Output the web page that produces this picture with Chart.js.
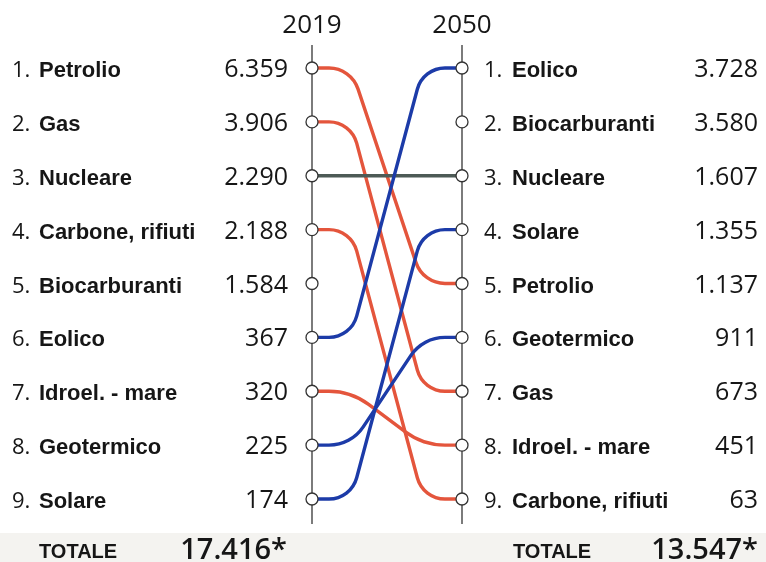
<!DOCTYPE html>
<html lang="it">
<head>
    <meta charset="UTF-8">
    <title>Fonti energetiche 2019 - 2050</title>
    <script src="https://cdn.jsdelivr.net/npm/chart.js"></script>
    <style>
        html, body { margin: 0; padding: 0; background: #fff; }
        #wrap { position: relative; width: 766px; height: 562px; overflow: hidden; }
    </style>
</head>
<body>
    <div id="wrap">
        <canvas id="rankChart" width="766" height="562"></canvas>
    </div>

    <script>
        // Dati: classifica 2019 e 2050
        const years = [2019, 2050];
        const ranks = [1, 2, 3, 4, 5, 6, 7, 8, 9];
        const names2019 = ['Petrolio', 'Gas', 'Nucleare', 'Carbone, rifiuti', 'Biocarburanti', 'Eolico', 'Idroel. - mare', 'Geotermico', 'Solare'];
        const values2019 = [6359, 3906, 2290, 2188, 1584, 367, 320, 225, 174];
        const names2050 = ['Eolico', 'Biocarburanti', 'Nucleare', 'Solare', 'Petrolio', 'Geotermico', 'Gas', 'Idroel. - mare', 'Carbone, rifiuti'];
        const values2050 = [3728, 3580, 1607, 1355, 1137, 911, 673, 451, 63];
        const totals = ['17.416*', '13.547*'];
        // fonti senza linea di collegamento nel grafico originale
        const noLink = ['Biocarburanti'];

        const RED = '#e4553c';
        const BLUE = '#1c3ba8';
        const GRAY = '#4d5a56';

        function fmt(v) {
            return String(v).replace(/\B(?=(\d{3})+(?!\d))/g, '.');
        }

        // collegamenti tra le due colonne
        const links = names2019
            .filter(n => !noLink.includes(n))
            .map(n => {
                const r0 = names2019.indexOf(n) + 1;
                const r1 = names2050.indexOf(n) + 1;
                const color = r1 < r0 ? BLUE : (r1 > r0 ? RED : GRAY);
                return { name: n, from: r0, to: r1, color: color };
            });

        const numFont = '400 25px "Open Sans", sans-serif';
        const rankFont = '400 22px "Open Sans", sans-serif';
        const nameFont = 'bold 22px "Liberation Sans", Arial, sans-serif';

        const linksPlugin = {
            id: 'links',
            beforeDatasetsDraw(chart) {
                const { ctx, scales: { x, y } } = chart;
                const x0 = x.getPixelForValue(years[0]);
                const x1 = x.getPixelForValue(years[1]);
                const top = y.getPixelForValue(1) - 23;
                const bottom = y.getPixelForValue(9) + 25;
                ctx.save();
                // assi verticali
                ctx.strokeStyle = '#444';
                ctx.lineWidth = 1.4;
                [x0, x1].forEach(px => {
                    ctx.beginPath();
                    ctx.moveTo(px, top);
                    ctx.lineTo(px, bottom);
                    ctx.stroke();
                });
                // curve
                const stub = 39;
                const tangent = 22;
                ctx.lineWidth = 3.4;
                ctx.lineCap = 'round';
                links.forEach(l => {
                    const y0 = y.getPixelForValue(l.from);
                    const y1 = y.getPixelForValue(l.to);
                    ctx.strokeStyle = l.color;
                    ctx.beginPath();
                    ctx.moveTo(x0, y0);
                    if (l.from === l.to) {
                        ctx.lineTo(x1, y1);
                    } else {
                        const ax = x0 + stub, bx = x1 - stub;
                        const ang = Math.atan2(Math.abs(y1 - y0), bx - ax);
                        const r = tangent / Math.tan(ang / 2);
                        ctx.arcTo(ax, y0, bx, y1, r);
                        ctx.arcTo(bx, y1, x1, y1, r);
                        ctx.lineTo(x1, y1);
                    }
                    ctx.stroke();
                });
                ctx.restore();
            },
            afterDraw(chart) {
                const { ctx, scales: { x, y } } = chart;
                const x0 = x.getPixelForValue(years[0]);
                const x1 = x.getPixelForValue(years[1]);
                ctx.save();
                ctx.fillStyle = '#161616';
                ctx.textBaseline = 'alphabetic';

                // anni
                ctx.font = '400 26px "Open Sans", sans-serif';
                ctx.textAlign = 'center';
                ctx.fillText(String(years[0]), x0, 33);
                ctx.fillText(String(years[1]), x1, 33);

                ranks.forEach((r, i) => {
                    const py = y.getPixelForValue(r) + 9;
                    // colonna sinistra
                    ctx.textAlign = 'left';
                    ctx.font = rankFont;
                    ctx.fillText(r + '.', x0 - 300, py);
                    ctx.font = nameFont;
                    ctx.fillText(names2019[i], x0 - 273, py);
                    ctx.textAlign = 'right';
                    ctx.font = numFont;
                    ctx.fillText(fmt(values2019[i]), x0 - 24, py);
                    // colonna destra
                    ctx.textAlign = 'left';
                    ctx.font = rankFont;
                    ctx.fillText(r + '.', x1 + 22, py);
                    ctx.font = nameFont;
                    ctx.fillText(names2050[i], x1 + 50, py);
                    ctx.textAlign = 'right';
                    ctx.font = numFont;
                    ctx.fillText(fmt(values2050[i]), x1 + 296, py);
                });

                // totali
                ctx.fillStyle = '#f4f3f0';
                ctx.fillRect(0, 533, 766, 29);
                ctx.fillStyle = '#161616';
                ctx.textAlign = 'left';
                ctx.font = 'bold 20px "Liberation Sans", Arial, sans-serif';
                ctx.fillText('TOTALE', 39, 558);
                ctx.fillText('TOTALE', 513, 558);
                ctx.textAlign = 'right';
                ctx.font = '600 29px "Open Sans", sans-serif';
                ctx.fillText(totals[0], 287, 559);
                ctx.fillText(totals[1], 758, 559);
                ctx.restore();
            }
        };

        const dotStyle = {
            type: 'scatter',
            pointRadius: 6,
            pointHoverRadius: 6,
            pointBackgroundColor: '#fff',
            pointBorderColor: '#333',
            pointBorderWidth: 1.3,
            clip: false
        };

        const ctx = document.getElementById('rankChart').getContext('2d');
        const rankChart = new Chart(ctx, {
            type: 'scatter',
            data: {
                datasets: [
                    Object.assign({ label: String(years[0]), data: ranks.map(r => ({ x: years[0], y: r })) }, dotStyle),
                    Object.assign({ label: String(years[1]), data: ranks.map(r => ({ x: years[1], y: r })) }, dotStyle)
                ]
            },
            options: {
                responsive: false,
                animation: false,
                devicePixelRatio: 1,
                layout: { padding: { left: 312, right: 304, top: 68, bottom: 63 } },
                scales: {
                    x: { type: 'linear', min: years[0], max: years[1], display: false },
                    y: { type: 'linear', min: 1, max: 9, reverse: true, display: false }
                },
                plugins: {
                    legend: { display: false },
                    tooltip: { enabled: false }
                }
            },
            plugins: [linksPlugin]
        });
    </script>
</body>
</html>
